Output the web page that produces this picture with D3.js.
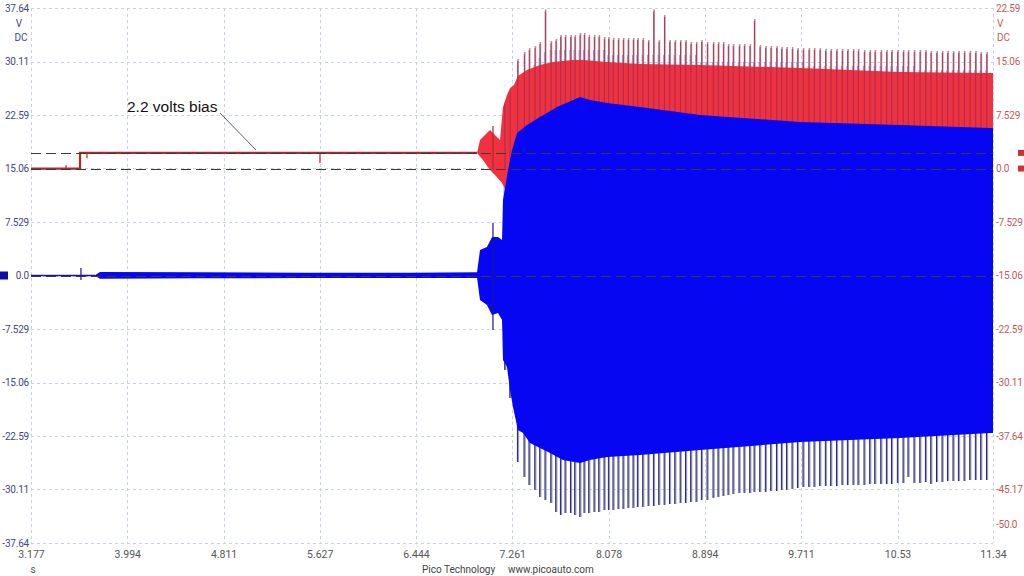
<!DOCTYPE html>
<html>
<head>
<meta charset="utf-8">
<script src="https://cdn.jsdelivr.net/npm/d3@7"></script>
<style>
  body { margin: 0; background: #fff; }
  svg { display: block; }
  text { font-family: Roboto, "Open Sans", sans-serif; }
</style>
</head>
<body>
<div id="chart"></div>
<script>
// tick labels
const timeTicks = [3.177, 3.994, 4.811, 5.627, 6.444, 7.261, 8.078, 8.894, 9.711, 10.53, 11.34];
const leftTicks = [37.64, 30.11, 22.59, 15.06, 7.529, 0.0, -7.529, -15.06, -22.59, -30.11, -37.64];
const rightTicks = [22.59, 15.06, 7.529, 0.0, -7.529, -15.06, -22.59, -30.11, -37.64, -45.17, -50.0];

// channel B (red) idle trace and envelope, volts on right axis
const redTrace = [[3.177, 0], [3.593, 0], [3.593, 2.2], [6.962, 2.2]];
const redUpper = [[6.962, 2.2], [6.987, 4.02], [7.029, 4.72], [7.072, 5.42], [7.114, 4.72], [7.157, 4.02],
  [7.182, 8.66], [7.216, 10.35], [7.242, 11.33], [7.275, 11.76], [7.309, 13.02], [7.386, 13.87],
  [7.496, 14.57], [7.606, 14.99], [7.776, 15.27], [7.861, 15.27], [8.065, 14.99], [8.345, 14.71],
  [8.854, 14.57], [9.702, 14.15], [10.551, 13.58], [11.315, 13.44], [11.34, 13.44]];
const redLower = [[6.962, 2.2], [7.012, 1.20], [7.072, -0.21], [7.114, -0.91], [7.174, -2.03],
  [7.216, -3.44], [7.259, -3.72], [7.326, -4.43], [11.34, -4.43]];
const redBlips = [[3.474, 0, 0.5], [3.652, 1.5, 2.2], [5.629, 0.77, 2.2], [7.097, -0.21, 5.99]];

// channel A (blue) trace and envelope, volts on left axis
const blueBase = [[3.177, 0], [3.720, 0]];
const blueUpper = [[3.720, 0.05], [3.762, 0.5], [4.60, 0.45], [5.50, 0.4], [6.40, 0.4], [6.962, 0.45],
  [6.987, 3.59], [7.046, 4.01], [7.089, 5.42], [7.140, 5.42], [7.174, 5.00], [7.182, 10.62],
  [7.225, 14.84], [7.259, 17.66], [7.301, 20.05], [7.386, 21.18], [7.496, 22.30], [7.640, 23.71],
  [7.836, 25.12], [7.920, 24.69], [8.065, 24.27], [8.345, 23.71], [8.854, 22.58], [9.702, 21.60],
  [10.551, 21.18], [11.315, 20.75], [11.34, 20.75]];
const blueLower = [[3.720, -0.05], [3.762, -0.45], [4.60, -0.4], [5.50, -0.35], [6.40, -0.35], [6.962, -0.35],
  [6.987, -3.45], [7.046, -4.15], [7.089, -5.56], [7.140, -5.28], [7.174, -6.26], [7.182, -11.89],
  [7.216, -12.87], [7.242, -16.11], [7.267, -18.50], [7.309, -21.74], [7.352, -22.16], [7.411, -23.57],
  [7.496, -24.27], [7.581, -24.98], [7.691, -25.96], [7.836, -26.38], [7.920, -25.96], [8.065, -25.54],
  [8.345, -25.26], [8.854, -24.55], [9.702, -23.43], [10.551, -22.87], [11.315, -22.16], [11.34, -22.16]];
const blueBlips = [[3.601, -0.63, 1.06], [7.097, -7.67, 7.39]];

// ignition events
const sparkTimes = [7.199, 7.242, 7.307, 7.363, 7.405, 7.454, 7.496, 7.541, 7.590, 7.632,
  7.672, 7.711, 7.757, 7.793, 7.836, 7.872, 7.912, 7.957, 7.997, 8.042,
  8.079, 8.118, 8.161, 8.203, 8.245, 8.288, 8.325, 8.370, 8.416, 8.461,
  8.506, 8.552, 8.597, 8.642, 8.688, 8.733, 8.777, 8.823, 8.868, 8.916,
  8.967, 9.009, 9.052, 9.094, 9.136, 9.187, 9.230, 9.278, 9.315, 9.363,
  9.411, 9.456, 9.505, 9.547, 9.590, 9.637, 9.683, 9.730, 9.779, 9.824,
  9.872, 9.920, 9.965, 10.014, 10.061, 10.107, 10.155, 10.197, 10.248, 10.296,
  10.339, 10.390, 10.438, 10.481, 10.531, 10.579, 10.621, 10.672, 10.721, 10.769,
  10.814, 10.863, 10.910, 10.956, 11.003, 11.049, 11.097, 11.145, 11.193, 11.238, 11.287];
const redSpikeTops = [9.36, 11.05, 15.41, 16.40, 16.96, 17.24, 17.81, 22.4, 17.95, 18.23,
  18.79, 18.79, 18.79, 18.79, 19.07, 19.07, 18.79, 18.79, 18.79, 18.51,
  18.51, 18.37, 18.37, 18.37, 18.37, 18.37, 18.37, 18.37, 18.09, 22.4,
  18.09, 21.61, 18.09, 18.09, 18.09, 18.09, 17.81, 17.81, 18.09, 17.81,
  17.81, 17.81, 17.81, 17.52, 17.52, 17.52, 17.52, 17.52, 21.04, 17.38,
  17.24, 17.24, 17.24, 17.10, 17.10, 17.10, 16.96, 16.96, 16.96, 16.96,
  16.96, 16.82, 16.82, 16.82, 16.82, 16.82, 16.82, 16.82, 16.68, 16.68,
  16.68, 16.68, 16.68, 16.68, 16.68, 16.68, 16.68, 16.68, 16.68, 16.68,
  16.54, 16.54, 16.54, 16.54, 16.54, 16.54, 16.54, 16.54, 16.54, 16.40, 16.40];
const blueSpikeTops = [17.66, 20.47, 24.69, 26.81, 28.21, 29.62, 30.60, 31.45, 31.73, 31.73,
  31.73, 31.73, 31.73, 31.73, 31.73, 31.73, 31.73, 31.73, 31.73, 31.73,
  31.03, 31.03, 31.03, 31.03, 31.03, 31.03, 31.03, 31.03, 31.03, 31.03,
  31.03, 31.03, 31.03, 31.03, 31.03, 31.03, 31.03, 31.03, 30.04, 30.04,
  30.04, 30.04, 30.04, 30.04, 30.04, 30.04, 30.04, 30.04, 30.04, 30.04,
  30.04, 30.04, 30.04, 30.04, 30.04, 30.04, 30.04, 30.04, 29.48, 29.48,
  29.48, 29.48, 29.48, 29.48, 29.48, 29.48, 29.48, 29.48, 29.48, 29.48,
  29.48, 29.48, 29.48, 29.48, 29.48, 29.48, 29.48, 29.48, 28.92, 28.92,
  28.92, 28.92, 28.92, 28.92, 28.92, 28.92, 28.92, 28.92, 28.92, 28.92, 28.92];
const blueSpikeBottoms = [-13.30, -17.24, -26.24, -28.35, -29.48, -30.18, -31.17, -31.59, -32.01, -33.28,
  -33.70, -33.42, -33.42, -33.70, -33.98, -33.42, -33.42, -33.28, -33.28, -33.00,
  -33.00, -33.00, -32.86, -32.86, -32.72, -32.72, -32.57, -32.57, -32.43, -32.43,
  -32.29, -32.29, -32.15, -32.15, -32.01, -32.01, -31.87, -31.87, -31.59, -31.59,
  -31.31, -31.17, -31.03, -30.89, -30.74, -30.60, -30.60, -30.60, -30.46, -30.46,
  -30.46, -30.32, -30.32, -30.18, -30.18, -30.04, -29.90, -29.76, -29.76, -29.76,
  -29.62, -29.62, -29.62, -29.62, -29.48, -29.48, -29.48, -29.48, -29.48, -29.34,
  -29.34, -29.34, -29.34, -29.34, -29.20, -29.20, -28.35, -29.20, -29.20, -29.06,
  -29.34, -29.06, -29.06, -28.92, -28.92, -28.92, -28.92, -28.78, -28.78, -28.78, -28.78];

const biasLevel = 2.2;

const [svgWidth, svgHeight] = [1024, 576];
const margin = { left: 31, right: 31, top: 8, bottom: 33 };

let svg = d3.select('#chart').append('svg')
  .attr('width', svgWidth)
  .attr('height', svgHeight);

let xScale = d3.scaleLinear()
  .domain([3.177, 11.34]).range([margin.left, svgWidth - margin.right]);
let yLeft = d3.scaleLinear()
  .domain([-37.64, 37.64]).range([svgHeight - margin.bottom, margin.top]);
let yRight = d3.scaleLinear()
  .domain([22.59 - 75.28, 22.59]).range([svgHeight - margin.bottom, margin.top]);

const x0 = xScale.range()[0], x1 = xScale.range()[1];
const yTop = yLeft.range()[1], yBot = yLeft.range()[0];

// grid
let grid = svg.append('g').attr('class', 'grid')
  .attr('stroke', '#c5d3e2').attr('stroke-width', 1).attr('stroke-dasharray', '3,3');
grid.selectAll('.gx').data(timeTicks).enter().append('line')
  .attr('x1', d => Math.round(xScale(d)) + 0.5).attr('x2', d => Math.round(xScale(d)) + 0.5)
  .attr('y1', yTop).attr('y2', yBot);
grid.selectAll('.gy').data(leftTicks).enter().append('line')
  .attr('x1', x0).attr('x2', x1)
  .attr('y1', d => Math.round(yLeft(d)) + 0.5).attr('y2', d => Math.round(yLeft(d)) + 0.5);

let lineL = d3.line().x(d => xScale(d[0])).y(d => yLeft(d[1]));
let lineR = d3.line().x(d => xScale(d[0])).y(d => yRight(d[1]));

let traces = svg.append('g').attr('class', 'traces');

// faint blue spikes reaching up behind the red channel
traces.selectAll('.bup').data(sparkTimes).enter().append('line')
  .attr('x1', d => xScale(d) - 0.8).attr('x2', d => xScale(d) - 0.8)
  .attr('y1', yLeft(0)).attr('y2', (d, i) => yLeft(blueSpikeTops[i]))
  .attr('stroke', '#a9acd8').attr('stroke-width', 1.3);

// red spikes, soft halo (only shows above the envelope)
traces.selectAll('.rsp').data(sparkTimes).enter().append('line')
  .attr('x1', d => xScale(d) + 0.4).attr('x2', d => xScale(d) + 0.4)
  .attr('y1', yRight(0)).attr('y2', (d, i) => yRight(redSpikeTops[i]))
  .attr('stroke', '#c98a93').attr('stroke-width', 1.6);

// red envelope
traces.append('path')
  .attr('d', lineR(redUpper.concat(redLower.slice().reverse())) + 'Z')
  .attr('fill', '#f0313f');

traces.append('path').datum(redTrace)
  .attr('d', lineR)
  .attr('fill', 'none').attr('stroke', '#b3262c').attr('stroke-width', 2.2);

traces.selectAll('.rblip').data(redBlips).enter().append('line')
  .attr('x1', d => xScale(d[0])).attr('x2', d => xScale(d[0]))
  .attr('y1', d => yRight(d[1])).attr('y2', d => yRight(d[2]))
  .attr('stroke', '#b3262c').attr('stroke-width', 1.2);

// red spikes, dark core
traces.selectAll('.rsp2').data(sparkTimes).enter().append('line')
  .attr('x1', d => xScale(d)).attr('x2', d => xScale(d))
  .attr('y1', yRight(0)).attr('y2', (d, i) => yRight(redSpikeTops[i]) + 2)
  .attr('stroke', '#9a2f55').attr('stroke-width', 0.9);

// blue spikes downward
traces.selectAll('.bsp').data(sparkTimes).enter().append('line')
  .attr('x1', d => xScale(d) + 0.6).attr('x2', d => xScale(d) + 0.6)
  .attr('y1', yLeft(0)).attr('y2', (d, i) => yLeft(blueSpikeBottoms[i]))
  .attr('stroke', '#9898b8').attr('stroke-width', 1.6);
traces.selectAll('.bsp2').data(sparkTimes).enter().append('line')
  .attr('x1', d => xScale(d) - 0.3).attr('x2', d => xScale(d) - 0.3)
  .attr('y1', yLeft(0)).attr('y2', (d, i) => yLeft(blueSpikeBottoms[i]))
  .attr('stroke', '#22227a').attr('stroke-width', 1);

// blue envelope
traces.append('path')
  .attr('d', lineL(blueUpper.concat(blueLower.slice().reverse())) + 'Z')
  .attr('fill', '#0606f2');

traces.append('path').datum(blueBase)
  .attr('d', lineL)
  .attr('fill', 'none').attr('stroke', '#1616a0').attr('stroke-width', 1.6);

traces.selectAll('.bblip').data(blueBlips).enter().append('line')
  .attr('x1', d => xScale(d[0])).attr('x2', d => xScale(d[0]))
  .attr('y1', d => yLeft(d[1])).attr('y2', d => yLeft(d[2]))
  .attr('stroke', '#1616a0').attr('stroke-width', 1.2);

// reference dashes
let refs = svg.append('g').attr('class', 'refs')
  .attr('stroke', '#3a3a3a').attr('stroke-width', 1).attr('stroke-dasharray', '10,5');
[yRight(biasLevel), yRight(0), yLeft(0)].forEach(y => {
  refs.append('line').attr('x1', x0).attr('x2', x1)
    .attr('y1', Math.round(y) + 0.5).attr('y2', Math.round(y) + 0.5);
});

// axes
const axisFont = '10px';
let leftAxis = svg.append('g')
  .attr('transform', 'translate(' + x0 + ',0)')
  .call(d3.axisLeft(yLeft).tickValues(leftTicks).tickSize(0).tickPadding(2)
    .tickFormat(d => d === 0 ? '0.0' : String(d)));
leftAxis.select('.domain').remove();
leftAxis.selectAll('text').attr('fill', '#45458c').style('font-size', axisFont)
  .style('letter-spacing', '-0.2px');

let rightAxis = svg.append('g')
  .attr('transform', 'translate(' + (x1 + 2) + ',0)')
  .call(d3.axisRight(yRight).tickValues(rightTicks).tickSize(0).tickPadding(1)
    .tickFormat(d => d === 0 ? '0.0' : d === -50 ? '-50.0' : String(d)));
rightAxis.select('.domain').remove();
rightAxis.selectAll('text').attr('fill', '#c25a5a').style('font-size', axisFont)
  .style('letter-spacing', '-0.2px');

let bottomAxis = svg.append('g')
  .attr('transform', 'translate(0,' + yBot + ')')
  .call(d3.axisBottom(xScale).tickValues(timeTicks).tickSize(0).tickPadding(8)
    .tickFormat(d => String(d)));
bottomAxis.select('.domain').remove();
bottomAxis.selectAll('text').attr('fill', '#555').style('font-size', '10.5px');

// unit labels
svg.append('text').attr('x', 19).attr('y', 27).attr('text-anchor', 'middle')
  .attr('fill', '#45458c').style('font-size', axisFont).text('V');
svg.append('text').attr('x', 21).attr('y', 41).attr('text-anchor', 'middle')
  .attr('fill', '#45458c').style('font-size', axisFont).text('DC');
svg.append('text').attr('x', x1 + 4).attr('y', 27)
  .attr('fill', '#c25a5a').style('font-size', axisFont).text('V');
svg.append('text').attr('x', x1 + 4).attr('y', 41)
  .attr('fill', '#c25a5a').style('font-size', axisFont).text('DC');
svg.append('text').attr('x', 33).attr('y', 573).attr('text-anchor', 'middle')
  .attr('fill', '#555').style('font-size', '10px').text('s');
svg.append('text').attr('x', 422).attr('y', 573)
  .attr('fill', '#444').style('font-size', '10px').text('Pico Technology');
svg.append('text').attr('x', 508).attr('y', 573)
  .attr('fill', '#444').style('font-size', '10px').text('www.picoauto.com');

// channel markers
svg.append('rect').attr('x', 0).attr('y', yLeft(0) - 4).attr('width', 8).attr('height', 8)
  .attr('fill', '#0c0ca8');
[biasLevel, 0].forEach(v => {
  svg.append('rect').attr('x', 1018).attr('y', yRight(v) - 3).attr('width', 6).attr('height', 6)
    .attr('fill', '#c83434');
});

// annotation
svg.append('text').attr('x', 127).attr('y', 112)
  .style('font-family', '"Liberation Sans", Arial, sans-serif').style('font-size', '15.5px')
  .attr('fill', '#111').text('2.2 volts bias');
svg.append('line').attr('x1', 220).attr('y1', 113).attr('x2', 256).attr('y2', 150)
  .attr('stroke', '#333').attr('stroke-width', 0.8);
</script>
</body>
</html>
